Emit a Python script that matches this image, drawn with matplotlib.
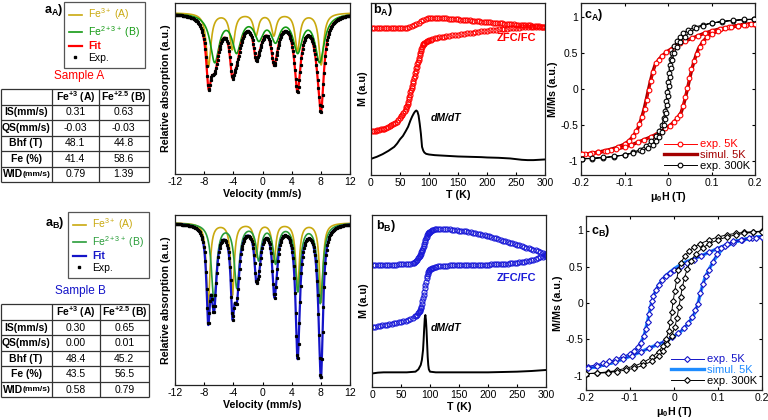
import numpy as np
import matplotlib
matplotlib.use('Agg')
import matplotlib.pyplot as plt

plt.rcParams['font.family'] = ['Liberation Sans', 'DejaVu Sans']
plt.rcParams['mathtext.fontset'] = 'custom'
plt.rcParams['mathtext.rm'] = 'Liberation Sans'
plt.rcParams['mathtext.it'] = 'Liberation Sans:italic'
plt.rcParams['mathtext.bf'] = 'Liberation Sans:bold'
plt.rcParams['axes.unicode_minus'] = False

# ---------------- DATA ----------------
# Mossbauer sextets (line positions mm/s, depths, FWHM)
mossA_siteA_pos = [-7.40, -4.15, -0.90, 1.55, 4.80, 8.05]
mossA_siteA_depth = [0.160, 0.108, 0.066, 0.066, 0.112, 0.155]
mossA_siteA_fwhm = 0.79
mossA_siteB_pos = [-6.55, -3.55, -0.50, 1.78, 4.82, 7.85]
mossA_siteB_depth = [0.142, 0.108, 0.068, 0.074, 0.108, 0.142]
mossA_siteB_fwhm = 1.50

mossB_siteA_pos = [-7.45, -4.12, -0.88, 1.58, 4.80, 8.05]
mossB_siteA_depth = [0.250, 0.215, 0.100, 0.115, 0.200, 0.237]
mossB_siteA_fwhm = 0.58
mossB_siteB_pos = [-6.65, -3.52, -0.52, 1.80, 4.85, 7.92]
mossB_siteB_depth = [0.232, 0.190, 0.105, 0.115, 0.200, 0.238]
mossB_siteB_fwhm = 0.85

# Tables
table_rows = ['IS(mm/s)', 'QS(mm/s)', 'Bhf (T)', 'Fe (%)', 'WID']
tableA_siteA = ['0.31', '-0.03', '48.1', '41.4', '0.79']
tableA_siteB = ['0.63', '-0.03', '44.8', '58.6', '1.39']
tableB_siteA = ['0.30', '0.00', '48.4', '43.5', '0.58']
tableB_siteB = ['0.65', '0.01', '45.2', '56.5', '0.79']

# ZFC / FC / dM/dT  sample A
T_zfcA = [2, 5, 8, 11, 14, 17, 20, 23, 26, 29, 32, 35, 38, 41, 44, 47, 50, 52, 54, 56, 58, 60, 61, 62, 63,
          64, 65, 66, 67, 68, 69, 70, 71, 72, 73, 74, 75, 76, 77, 78, 79, 80, 81, 82, 83, 84, 85, 86, 87, 88,
          89, 90, 91, 92, 94, 96, 98, 100, 103, 106, 110, 114, 118, 122, 126, 130, 135, 140, 145, 150, 155,
          160, 165, 170, 175, 180, 185, 190, 195, 200, 205, 210, 215, 220, 225, 230, 235, 240, 245, 250, 255,
          260, 265, 270, 275, 280, 285, 290, 295, 300]
M_zfcA = [1.33, 1.34, 1.345, 1.35, 1.36, 1.38, 1.39, 1.40, 1.42, 1.44, 1.47, 1.50, 1.53, 1.57, 1.61, 1.67,
          1.73, 1.77, 1.82, 1.88, 1.94, 2.00, 2.05, 2.10, 2.15, 2.22, 2.30, 2.37, 2.43, 2.50, 2.57, 2.63, 2.70,
          2.78, 2.85, 2.93, 3.00, 3.08, 3.15, 3.22, 3.28, 3.35, 3.42, 3.48, 3.55, 3.62, 3.68, 3.75, 3.82, 3.88,
          3.92, 3.95, 3.97, 3.99, 4.02, 4.04, 4.06, 4.07, 4.09, 4.11, 4.14, 4.15, 4.16, 4.17, 4.18, 4.19, 4.21,
          4.22, 4.23, 4.24, 4.25, 4.26, 4.28, 4.29, 4.30, 4.31, 4.33, 4.34, 4.35, 4.36, 4.37, 4.38, 4.39, 4.40,
          4.40, 4.41, 4.42, 4.43, 4.44, 4.45, 4.45, 4.46, 4.46, 4.47, 4.47, 4.47, 4.47, 4.47, 4.47, 4.47]
T_fcA = [2, 6, 10, 14, 18, 22, 26, 30, 34, 38, 42, 46, 50, 54, 58, 62, 66, 70, 74, 78, 82, 86, 90, 94, 98,
         102, 106, 110, 114, 118, 122, 126, 130, 134, 138, 142, 146, 150, 154, 158, 162, 166, 170, 174, 178,
         182, 186, 190, 194, 198, 202, 206, 210, 214, 218, 222, 226, 230, 234, 238, 242, 246, 250, 254, 258,
         262, 266, 270, 274, 278, 282, 286, 290, 294, 298]
M_fcA = [4.43, 4.43, 4.43, 4.43, 4.43, 4.43, 4.43, 4.43, 4.43, 4.43, 4.43, 4.43, 4.43, 4.435, 4.44, 4.45,
         4.46, 4.49, 4.52, 4.56, 4.61, 4.66, 4.70, 4.73, 4.75, 4.76, 4.76, 4.76, 4.76, 4.75, 4.75, 4.74, 4.74,
         4.73, 4.73, 4.72, 4.71, 4.71, 4.70, 4.70, 4.69, 4.69, 4.68, 4.67, 4.66, 4.66, 4.65, 4.64, 4.63, 4.63,
         4.62, 4.62, 4.61, 4.60, 4.60, 4.59, 4.59, 4.58, 4.58, 4.57, 4.56, 4.56, 4.55, 4.55, 4.54, 4.53, 4.53,
         4.52, 4.52, 4.51, 4.50, 4.50, 4.49, 4.48, 4.47]
T_dmdtA = [2, 5, 10, 15, 20, 25, 30, 35, 40, 45, 50, 55, 60, 64, 68, 71, 74, 76, 78, 80, 82, 84, 86, 88, 90,
           92, 95, 100, 105, 110, 120, 130, 140, 150, 160, 170, 180, 190, 200, 210, 220, 230, 240, 250, 260,
           270, 280, 290, 300]
M_dmdtA = [0.50, 0.52, 0.55, 0.59, 0.63, 0.68, 0.73, 0.79, 0.85, 0.95, 1.08, 1.18, 1.33, 1.46, 1.65, 1.77,
           1.87, 1.92, 1.95, 1.92, 1.80, 1.55, 1.25, 0.85, 0.74, 0.68, 0.64, 0.62, 0.61, 0.60, 0.59, 0.58, 0.57,
           0.56, 0.555, 0.55, 0.545, 0.54, 0.53, 0.525, 0.52, 0.51, 0.50, 0.48, 0.46, 0.45, 0.45, 0.46, 0.47]

# ZFC / FC / dM/dT  sample B
T_fcB = [2, 6, 10, 14, 18, 22, 26, 30, 34, 38, 42, 46, 50, 54, 58, 62, 66, 70, 72, 74, 76, 78, 80, 81, 82,
         83, 84, 85, 86, 87, 88, 89, 90, 91, 92, 93, 94, 95, 96, 97, 98, 99, 100, 102, 104, 106, 108, 110,
         114, 118, 122, 126, 130, 134, 138, 142, 146, 150, 154, 158, 162, 166, 170, 174, 178, 182, 186, 190,
         194, 198, 202, 206, 210, 214, 218, 222, 226, 230, 234, 238, 242, 246, 250, 254, 258, 262, 266, 270,
         274, 278, 282, 286, 290, 294, 298, 300]
M_fcB = [3.66, 3.66, 3.66, 3.66, 3.66, 3.66, 3.665, 3.665, 3.67, 3.67, 3.675, 3.68, 3.68, 3.685, 3.69, 3.70,
         3.705, 3.72, 3.73, 3.75, 3.77, 3.81, 3.86, 3.89, 3.92, 3.96, 4.00, 4.04, 4.08, 4.12, 4.16, 4.22, 4.28,
         4.34, 4.40, 4.46, 4.51, 4.55, 4.58, 4.61, 4.63, 4.65, 4.66, 4.68, 4.70, 4.72, 4.73, 4.735, 4.74, 4.74,
         4.74, 4.74, 4.735, 4.73, 4.72, 4.71, 4.70, 4.69, 4.68, 4.68, 4.67, 4.66, 4.645, 4.63, 4.62, 4.60, 4.59,
         4.575, 4.56, 4.54, 4.52, 4.50, 4.48, 4.46, 4.44, 4.42, 4.39, 4.37, 4.35, 4.33, 4.31, 4.29, 4.27, 4.25,
         4.23, 4.21, 4.18, 4.16, 4.14, 4.12, 4.10, 4.07, 4.04, 4.01, 3.98, 3.96]
T_zfcB = [2, 6, 10, 14, 18, 22, 26, 30, 34, 38, 42, 46, 50, 54, 58, 62, 66, 70, 74, 76, 78, 80, 81, 82, 83,
          84, 85, 86, 87, 88, 89, 90, 91, 92, 93, 94, 95, 96, 97, 98, 99, 100, 102, 104, 106, 108, 110, 114,
          118, 122, 126, 130, 134, 138, 142, 146, 150, 154, 158, 162, 166, 170, 174, 178, 182, 186, 190, 194,
          198, 202, 206, 210, 214, 218, 222, 226, 230, 234, 238, 242, 246, 250, 254, 258, 262, 266, 270, 274,
          278, 282, 286, 290, 294, 298, 300]
M_zfcB = [1.79, 1.80, 1.82, 1.83, 1.85, 1.86, 1.87, 1.89, 1.90, 1.91, 1.93, 1.94, 1.96, 1.97, 1.99, 2.02,
          2.04, 2.08, 2.12, 2.14, 2.17, 2.21, 2.24, 2.28, 2.32, 2.36, 2.41, 2.49, 2.57, 2.66, 2.76, 2.86, 2.96,
          3.06, 3.16, 3.26, 3.33, 3.40, 3.46, 3.49, 3.52, 3.54, 3.555, 3.57, 3.585, 3.60, 3.61, 3.62, 3.63,
          3.635, 3.64, 3.645, 3.65, 3.65, 3.655, 3.66, 3.66, 3.66, 3.66, 3.66, 3.66, 3.665, 3.665, 3.67, 3.67,
          3.67, 3.67, 3.675, 3.675, 3.675, 3.68, 3.68, 3.68, 3.68, 3.68, 3.685, 3.69, 3.70, 3.71, 3.72, 3.72,
          3.73, 3.74, 3.75, 3.76, 3.78, 3.79, 3.81, 3.82, 3.84, 3.86, 3.89, 3.91, 3.94, 3.96]
T_dmdtB = [2, 10, 20, 40, 60, 75, 80, 84, 86, 88, 89, 90, 91, 92, 93, 94, 95, 96, 97, 98, 100, 110, 130,
           150, 175, 200, 225, 250, 275, 300]
M_dmdtB = [0.41, 0.43, 0.44, 0.44, 0.44, 0.46, 0.53, 0.66, 0.81, 1.11, 1.41, 1.76, 2.06, 2.16, 2.01, 1.71,
           1.31, 0.91, 0.66, 0.53, 0.46, 0.44, 0.44, 0.44, 0.44, 0.44, 0.45, 0.46, 0.48, 0.51]

# Hysteresis, sample A
H_A5_dn = [0.198, 0.18, 0.16, 0.14, 0.12, 0.10, 0.085, 0.07, 0.055, 0.04, 0.028, 0.017, 0.006, -0.004,
           -0.013, -0.021, -0.028, -0.034, -0.039, -0.044, -0.049, -0.054, -0.06, -0.066, -0.073, -0.08,
           -0.09, -0.1, -0.115, -0.13, -0.145, -0.16, -0.175, -0.19, -0.2]
M_A5_dn = [0.912, 0.90, 0.885, 0.865, 0.84, 0.81, 0.78, 0.745, 0.705, 0.67, 0.635, 0.595, 0.55, 0.51, 0.46,
           0.41, 0.36, 0.24, 0.11, -0.015, -0.15, -0.28, -0.39, -0.485, -0.58, -0.655, -0.73, -0.77, -0.81,
           -0.845, -0.865, -0.885, -0.897, -0.907, -0.912]
H_A5_up = [-0.198, -0.18, -0.16, -0.14, -0.12, -0.10, -0.085, -0.07, -0.055, -0.04, -0.028, -0.017, -0.006,
           0.004, 0.013, 0.021, 0.028, 0.034, 0.039, 0.044, 0.049, 0.054, 0.06, 0.066, 0.073, 0.08, 0.09, 0.1,
           0.115, 0.13, 0.145, 0.16, 0.175, 0.19, 0.2]
M_A5_up = [-0.912, -0.90, -0.885, -0.865, -0.84, -0.81, -0.78, -0.745, -0.705, -0.67, -0.635, -0.595, -0.55,
           -0.51, -0.46, -0.41, -0.36, -0.24, -0.11, 0.015, 0.15, 0.28, 0.39, 0.485, 0.58, 0.655, 0.73, 0.77,
           0.81, 0.845, 0.865, 0.885, 0.897, 0.907, 0.912]
H_Asim_dn = [0.2, 0.18, 0.16, 0.14, 0.12, 0.10, 0.08, 0.06, 0.04, 0.02, 0.0, -0.01, -0.02, -0.03, -0.035,
             -0.04, -0.045, -0.05, -0.055, -0.06, -0.065, -0.07, -0.08, -0.09, -0.10, -0.12, -0.14, -0.16,
             -0.18, -0.2]
M_Asim_dn = [0.915, 0.90, 0.885, 0.865, 0.84, 0.81, 0.77, 0.72, 0.67, 0.61, 0.53, 0.48, 0.42, 0.33, 0.24,
             0.12, -0.01, -0.15, -0.28, -0.39, -0.48, -0.56, -0.66, -0.725, -0.77, -0.82, -0.855, -0.88, -0.9,
             -0.915]
H_Asim_up = [-0.2, -0.18, -0.16, -0.14, -0.12, -0.10, -0.08, -0.06, -0.04, -0.02, 0.0, 0.01, 0.02, 0.03,
             0.035, 0.04, 0.045, 0.05, 0.055, 0.06, 0.065, 0.07, 0.08, 0.09, 0.10, 0.12, 0.14, 0.16, 0.18, 0.2]
M_Asim_up = [-0.915, -0.90, -0.885, -0.865, -0.84, -0.81, -0.77, -0.72, -0.67, -0.61, -0.53, -0.48, -0.42,
             -0.33, -0.24, -0.12, 0.01, 0.15, 0.28, 0.39, 0.48, 0.56, 0.66, 0.725, 0.77, 0.82, 0.855, 0.88, 0.9,
             0.915]
H_A300_dn = [0.198, 0.175, 0.15, 0.125, 0.1, 0.08, 0.06, 0.045, 0.035, 0.027, 0.02, 0.014, 0.009, 0.006,
             0.004, 0.002, 0.0, -0.002, -0.004, -0.007, -0.01, -0.014, -0.02, -0.028, -0.038, -0.05, -0.065,
             -0.08, -0.1, -0.125, -0.15, -0.175, -0.198]
M_A300_dn = [0.972, 0.966, 0.955, 0.94, 0.92, 0.895, 0.86, 0.82, 0.78, 0.73, 0.67, 0.6, 0.5, 0.42, 0.33,
             0.22, 0.1, -0.04, -0.17, -0.3, -0.41, -0.5, -0.58, -0.66, -0.73, -0.79, -0.845, -0.885, -0.92,
             -0.945, -0.96, -0.97, -0.977]
H_A300_up = [-0.198, -0.175, -0.15, -0.125, -0.1, -0.08, -0.06, -0.045, -0.035, -0.027, -0.02, -0.014,
             -0.009, -0.006, -0.004, -0.002, 0.0, 0.002, 0.004, 0.007, 0.01, 0.014, 0.02, 0.028, 0.038, 0.05,
             0.065, 0.08, 0.1, 0.125, 0.15, 0.175, 0.198]
M_A300_up = [-0.972, -0.966, -0.955, -0.94, -0.92, -0.895, -0.86, -0.82, -0.78, -0.73, -0.67, -0.6, -0.5,
             -0.42, -0.33, -0.22, -0.1, 0.04, 0.17, 0.3, 0.41, 0.5, 0.58, 0.66, 0.73, 0.79, 0.845, 0.885, 0.92,
             0.945, 0.96, 0.97, 0.977]

# Hysteresis, sample B
H_B5_dn = [0.2, 0.177, 0.154, 0.135, 0.117, 0.098, 0.079, 0.062, 0.045, 0.03, 0.015, 0.0, -0.01, -0.019,
           -0.028, -0.035, -0.042, -0.047, -0.05, -0.053, -0.056, -0.06, -0.064, -0.069, -0.075, -0.082, -0.09,
           -0.1, -0.117, -0.132, -0.147, -0.162, -0.177, -0.196]
M_B5_dn = [0.912, 0.899, 0.866, 0.83, 0.793, 0.75, 0.70, 0.65, 0.60, 0.555, 0.507, 0.46, 0.42, 0.378, 0.32,
           0.253, 0.18, 0.10, 0.03, -0.06, -0.15, -0.26, -0.36, -0.46, -0.553, -0.61, -0.66, -0.70, -0.737,
           -0.775, -0.806, -0.83, -0.853, -0.876]
H_B5_up = [-0.196, -0.175, -0.155, -0.135, -0.115, -0.095, -0.075, -0.056, -0.038, -0.02, -0.004, 0.01,
           0.022, 0.032, 0.041, 0.048, 0.054, 0.06, 0.066, 0.073, 0.08, 0.088, 0.097, 0.107, 0.12, 0.135,
           0.152, 0.17, 0.186, 0.2]
M_B5_up = [-0.903, -0.875, -0.845, -0.81, -0.77, -0.725, -0.675, -0.622, -0.572, -0.522, -0.475, -0.415,
           -0.345, -0.276, -0.195, -0.10, -0.01, 0.138, 0.26, 0.37, 0.46, 0.565, 0.68, 0.76, 0.815, 0.85,
           0.875, 0.893, 0.903, 0.912]
H_Bsim_dn = [0.2, 0.17, 0.14, 0.11, 0.08, 0.05, 0.02, 0.0, -0.02, -0.035, -0.045, -0.052, -0.06, -0.068,
             -0.078, -0.09, -0.11, -0.14, -0.17, -0.2]
M_Bsim_dn = [0.915, 0.89, 0.85, 0.78, 0.70, 0.62, 0.55, 0.47, 0.37, 0.25, 0.12, -0.02, -0.25, -0.45, -0.58,
             -0.67, -0.75, -0.82, -0.87, -0.905]
H_Bsim_up = [-0.2, -0.17, -0.14, -0.11, -0.08, -0.05, -0.02, 0.0, 0.02, 0.035, 0.046, 0.054, 0.062, 0.07,
             0.08, 0.092, 0.11, 0.14, 0.17, 0.2]
M_Bsim_up = [-0.905, -0.87, -0.825, -0.76, -0.685, -0.605, -0.53, -0.46, -0.37, -0.26, -0.15, -0.02, 0.18,
             0.34, 0.47, 0.6, 0.75, 0.85, 0.89, 0.915]
H_B300_dn = [0.2, 0.18, 0.16, 0.14, 0.12, 0.1, 0.08, 0.06, 0.045, 0.035, 0.025, 0.015, 0.01, 0.006, 0.002,
             -0.002, -0.005, -0.008, -0.012, -0.018, -0.025, -0.035, -0.05, -0.07, -0.09, -0.11, -0.13, -0.15,
             -0.175, -0.2]
M_B300_dn = [0.99, 0.985, 0.975, 0.96, 0.94, 0.91, 0.87, 0.82, 0.77, 0.72, 0.65, 0.55, 0.45, 0.32, 0.17,
             0.03, -0.12, -0.26, -0.38, -0.5, -0.59, -0.67, -0.75, -0.82, -0.87, -0.9, -0.93, -0.95, -0.965,
             -0.975]
H_B300_up = [-0.2, -0.175, -0.15, -0.13, -0.11, -0.09, -0.07, -0.05, -0.035, -0.025, -0.015, -0.005, 0.002,
             0.007, 0.011, 0.015, 0.019, 0.024, 0.03, 0.038, 0.05, 0.065, 0.08, 0.1, 0.12, 0.14, 0.16, 0.18, 0.2]
M_B300_up = [-0.975, -0.97, -0.96, -0.945, -0.925, -0.9, -0.86, -0.8, -0.73, -0.66, -0.57, -0.45, -0.33,
             -0.2, -0.06, 0.08, 0.22, 0.35, 0.47, 0.58, 0.68, 0.76, 0.82, 0.87, 0.91, 0.94, 0.96, 0.975, 0.985]

# ---------------- STYLE ----------------
C_YEL = '#c9a90f'
C_GRN_A = '#149a14'
C_GRN_B = '#2a9d3a'
C_RED = '#ff0000'
C_BLUE = '#1414c8'
C_BLUE_MT = '#1a1ad8'
C_DRED = '#a30000'
C_LBLUE = '#1e8cff'
SPINE = '#222222'

W, H = 768, 420
fig = plt.figure(figsize=(W / 100, H / 100), dpi=100)


def add_ax(l, t, r, b):
    ax = fig.add_axes([l / W, 1 - b / H, (r - l) / W, (b - t) / H])
    for s in ax.spines.values():
        s.set_linewidth(0.9)
        s.set_color(SPINE)
    return ax


def sextet(v, pos, depth, fwhm):
    g = fwhm / 2.0
    out = np.zeros_like(v)
    for p, d in zip(pos, depth):
        out += d * g ** 2 / ((v - p) ** 2 + g ** 2)
    return out


# overlay axes in pixel coordinates for tables / labels
ov = fig.add_axes([0, 0, 1, 1], zorder=-1)
ov.set_xlim(0, W)
ov.set_ylim(H, 0)
ov.axis('off')


def moss_panel(box, posA, depA, fwA, posB, depB, fwB, c_fit, c_grn, ylim, legend_anchor):
    ax = add_ax(*box)
    v = np.linspace(-12, 12, 1201)
    sa = sextet(v, posA, depA, fwA)
    sb = sextet(v, posB, depB, fwB)
    l1, = ax.plot(v, 1 - sa, color=C_YEL, lw=1.2, label='Fe$^{3+}$ (A)')
    l2, = ax.plot(v, 1 - sb, color=c_grn, lw=1.2, label='Fe$^{2+3+}$ (B)')
    l3, = ax.plot(v, 1 - sa - sb, color=c_fit, lw=1.6, label='Fit')
    ve = np.linspace(-12, 12, 256)
    l4, = ax.plot(ve, 1 - sextet(ve, posA, depA, fwA) - sextet(ve, posB, depB, fwB), ls='none',
                  marker='s', ms=1.3, color='black', label='Exp.')
    ax.set_xlim(-12, 12)
    ax.set_ylim(*ylim)
    ax.set_xticks([-12, -8, -4, 0, 4, 8, 12])
    ax.set_yticks([])
    ax.tick_params(axis='x', direction='in', length=2.5, labelsize=7.5, pad=2)
    ax.set_xlabel('Velocity (mm/s)', fontsize=7.7, fontweight='bold', labelpad=1.5)
    ax.set_ylabel('Relative absorption (a.u.)', fontsize=7.7, fontweight='bold', labelpad=3)
    leg = fig.legend(handles=[l1, l2, l3, l4], loc='upper left',
                     bbox_to_anchor=(legend_anchor[0] / W, 1 - legend_anchor[1] / H),
                     fontsize=7.5, frameon=True, fancybox=False, edgecolor='#555555', framealpha=1,
                     handlelength=1.3, handletextpad=0.6, labelspacing=0.15, borderpad=0.45,
                     borderaxespad=0, labelcolor='linecolor', markerscale=1.5)
    leg.get_frame().set_linewidth(0.9)
    leg.get_texts()[2].set_fontweight('bold')
    return ax


moss_panel((175, 3, 350, 174), mossA_siteA_pos, mossA_siteA_depth, mossA_siteA_fwhm,
           mossA_siteB_pos, mossA_siteB_depth, mossA_siteB_fwhm, C_RED, C_GRN_A,
           (0.515, 1.029), (64, 2))
moss_panel((175, 215, 350, 385), mossB_siteA_pos, mossB_siteA_depth, mossB_siteA_fwhm,
           mossB_siteB_pos, mossB_siteB_depth, mossB_siteB_fwhm, C_BLUE, C_GRN_B,
           (0.513, 1.023), (68, 212))


def mt_panel(box, Tz, Mz, Tf, Mf, Td, Md, col, ylim):
    ax = add_ax(*box)
    ax.plot(Tf, Mf, ls='none', marker='o', ms=3.6, mfc='none', mec=col, mew=0.8)
    ax.plot(Tz, Mz, ls='none', marker='o', ms=3.6, mfc='none', mec=col, mew=0.8)
    ax.plot(Td, Md, color='black', lw=1.4)
    ax.set_xlim(0, 300)
    ax.set_ylim(*ylim)
    ax.set_xticks([0, 50, 100, 150, 200, 250, 300])
    ax.set_yticks([])
    ax.tick_params(axis='x', direction='in', length=2.5, labelsize=7.5, pad=2)
    ax.set_xlabel('T (K)', fontsize=7.7, fontweight='bold', labelpad=1.5)
    ax.set_ylabel('M (a.u)', fontsize=7.7, fontweight='bold', labelpad=2)
    return ax


mt_panel((371, 3, 545, 175), T_zfcA, M_zfcA, T_fcA, M_fcA, T_dmdtA, M_dmdtA, C_RED, (0, 5.2))
mt_panel((372, 215, 546, 387), T_zfcB, M_zfcB, T_fcB, M_fcB, T_dmdtB, M_dmdtB, C_BLUE_MT, (0, 5.16))


def hyst_panel(box, H5, M5, Hs, Ms, H3, M3, c5, cs, mk):
    ax = add_ax(*box)
    msz = 3.4 if mk == 'o' else 3.0
    hs, = ax.plot(Hs, Ms, color=cs, lw=2.4, label='simul. 5K', zorder=2)
    h5, = ax.plot(H5, M5, color=c5, lw=0.7, marker=mk, ms=msz, mfc='white',
                  mec=c5, mew=0.8, label='exp. 5K', zorder=3)
    h3, = ax.plot(H3, M3, color='black', lw=0.7, marker=mk, ms=msz, mfc='white',
                  mec='black', mew=0.8, label='exp. 300K', zorder=4)
    ax.set_xlim(-0.2, 0.2)
    ax.set_ylim(-1.2, 1.2)
    ax.set_xticks([-0.2, -0.1, 0, 0.1, 0.2])
    ax.set_xticklabels(['-0.2', '-0.1', '0', '0.1', '0.2'])
    ax.set_yticks([-1, -0.5, 0, 0.5, 1])
    ax.set_yticklabels(['-1', '-0.5', '0', '0.5', '1'])
    ax.tick_params(direction='in', length=2.5, labelsize=7.5, pad=2, top=True, right=True)
    ax.set_xlabel('μ$_\\mathbf{0}$H (T)', fontsize=7.7, fontweight='bold', labelpad=1.5)
    ax.set_ylabel('M/Ms (a.u.)', fontsize=7.7, fontweight='bold', labelpad=2)
    ax.legend(handles=[h5, hs, h3], loc='lower right', frameon=False, fontsize=8, handlelength=3.0,
              handletextpad=0.3, labelspacing=0.05, borderaxespad=0.2, borderpad=0.2,
              labelcolor='linecolor')
    return ax


hyst_panel((581, 3, 755, 175), H_A5_dn + H_A5_up, M_A5_dn + M_A5_up, H_Asim_dn + H_Asim_up,
           M_Asim_dn + M_Asim_up, H_A300_dn + H_A300_up, M_A300_dn + M_A300_up, C_RED, C_DRED, 'o')
hyst_panel((586, 216, 762, 390), H_B5_dn + H_B5_up, M_B5_dn + M_B5_up, H_Bsim_dn + H_Bsim_up,
           M_Bsim_dn + M_Bsim_up, H_B300_dn + H_B300_up, M_B300_dn + M_B300_up, C_BLUE, C_LBLUE, 'D')


# ---------------- tables & annotations ----------------
def draw_table(top, bottom, cols, colA, colB):
    nrow = len(table_rows) + 1
    ys = np.linspace(top, bottom, nrow + 1)
    for y in ys:
        ov.plot([cols[0], cols[-1]], [y, y], color='#333333', lw=0.9, solid_capstyle='butt')
    for x in cols:
        ov.plot([x, x], [top, bottom], color='#333333', lw=0.9, solid_capstyle='butt')
    yc = (ys[:-1] + ys[1:]) / 2
    xc = [(cols[i] + cols[i + 1]) / 2 for i in range(3)]
    ov.text(xc[1], yc[0], r'Fe$^{\mathbf{+3}}$ (A)', fontsize=7.5, fontweight='bold', ha='center', va='center')
    ov.text(xc[2], yc[0], r'Fe$^{\mathbf{+2.5}}$ (B)', fontsize=7.5, fontweight='bold', ha='center', va='center')
    for i, lab in enumerate(table_rows):
        if lab == 'WID':
            t = ov.text(cols[0] + 2, yc[i + 1], 'WID', fontsize=7.5, fontweight='bold', ha='left',
                        va='center')
            ov.annotate('(mm/s)', xy=(1, 0.12), xycoords=t, fontsize=6, fontweight='bold', ha='left',
                        va='bottom')
        else:
            ov.text(xc[0], yc[i + 1], lab, fontsize=7.5, fontweight='bold', ha='center', va='center')
        ov.text(xc[1], yc[i + 1], colA[i], fontsize=7.5, ha='center', va='center')
        ov.text(xc[2], yc[i + 1], colB[i], fontsize=7.5, ha='center', va='center')


draw_table(89, 182, [0.5, 51.7, 99, 148.5], tableA_siteA, tableA_siteB)
draw_table(304.3, 397.3, [0.5, 51.7, 100, 148.7], tableB_siteA, tableB_siteB)

ov.text(79, 76, 'Sample A', color=C_RED, fontsize=8.5, ha='center', va='center')
ov.text(80, 291, 'Sample B', color=C_BLUE, fontsize=8.5, ha='center', va='center')
ov.text(44, 10, r'a$_\mathbf{A}$)', fontsize=9, fontweight='bold', ha='left', va='center')
ov.text(45, 223, r'a$_\mathbf{B}$)', fontsize=9, fontweight='bold', ha='left', va='center')

# panel labels inside axes
fig.text(373 / W, 1 - 10 / H, r'b$_\mathbf{A}$)', fontsize=9, fontweight='bold', ha='left', va='center')
fig.text(376 / W, 1 - 226 / H, r'b$_\mathbf{B}$)', fontsize=9, fontweight='bold', ha='left', va='center')
fig.text(584 / W, 1 - 15 / H, r'c$_\mathbf{A}$)', fontsize=9, fontweight='bold', ha='left', va='center')
fig.text(591 / W, 1 - 231 / H, r'c$_\mathbf{B}$)', fontsize=9, fontweight='bold', ha='left', va='center')
fig.text(516 / W, 1 - 38 / H, 'ZFC/FC', color=C_RED, fontsize=8, fontweight='bold', ha='center', va='center')
fig.text(516 / W, 1 - 278 / H, 'ZFC/FC', color=C_BLUE_MT, fontsize=8, fontweight='bold', ha='center',
         va='center')
fig.text(446 / W, 1 - 118 / H, 'dM/dT', fontsize=7.5, fontweight='bold', fontstyle='italic', ha='center',
         va='center')
fig.text(446 / W, 1 - 328 / H, 'dM/dT', fontsize=7.5, fontweight='bold', fontstyle='italic', ha='center',
         va='center')

fig.savefig('out.png', dpi=100)
